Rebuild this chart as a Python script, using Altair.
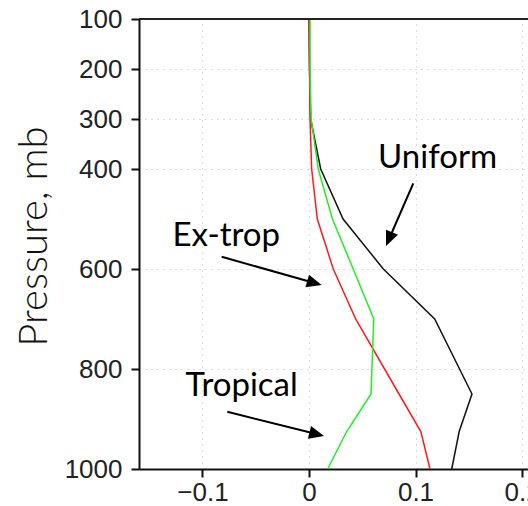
import math
import altair as alt
import pandas as pd

# ---- data ----
pressure = [100, 200, 300, 400, 500, 600, 700, 850, 925, 1000]
uniform = [0.0, 0.0005, 0.0015, 0.011, 0.032, 0.0698, 0.118, 0.153, 0.141, 0.134]
extrop = [0.0, 0.0005, 0.001, 0.0025, 0.0078, 0.0228, 0.0438, 0.0845, 0.105, 0.1136]
tropical = [0.001, 0.001, 0.002, 0.0087, 0.022, 0.0415, 0.0608, 0.0582, 0.0354, 0.0175]

series_names = ["Uniform", "Ex-trop", "Tropical"]
series_colors = ["#111111", "#ff1a1a", "#22ee22"]

y_ticks = [100, 200, 300, 400, 600, 800, 1000]
x_ticks = [-0.1, 0, 0.1, 0.2]

# annotations (data coordinates)
ann_text = ["Uniform", "Ex-trop", "Tropical"]
ann_text_x = [0.1207, -0.0777, -0.0632]
ann_text_p = [398.6, 554, 854]
arrow_start_x = [0.0979, -0.082, -0.0767]
arrow_start_p = [428.6, 575.4, 885.4]
arrow_tip_x = [0.0723, 0.0119, 0.0141]
arrow_tip_p = [554, 632, 934]

# ---- layout ----
W, H = 389, 450
x_dom = [-0.1596, 0.2056]
y_dom = [100, 1000]
kx = W / (x_dom[1] - x_dom[0])
ky = H / (y_dom[1] - y_dom[0])
head_len = 15.0

rows = []
for name, vals in zip(series_names, [uniform, extrop, tropical]):
    for p, v in zip(pressure, vals):
        rows.append({"series": name, "p": p, "v": v})
df = pd.DataFrame(rows)

arr = []
for sx, sp, tx, tp in zip(arrow_start_x, arrow_start_p, arrow_tip_x, arrow_tip_p):
    dx = (tx - sx) * kx
    dy = (tp - sp) * ky
    L = math.hypot(dx, dy)
    ang = math.degrees(math.atan2(dx, -dy)) % 360
    ex = tx - (dx / L) * (head_len * 0.8) / kx
    ep = tp - (dy / L) * (head_len * 0.8) / ky
    arr.append({"x": sx, "p": sp, "x2": ex, "p2": ep, "tx": tx, "tp": tp, "ang": ang})
adf = pd.DataFrame(arr)
tdf = pd.DataFrame({"t": ann_text, "x": ann_text_x, "p": ann_text_p})

xscale = alt.Scale(domain=x_dom, nice=False, zero=False)
yscale = alt.Scale(domain=y_dom, reverse=True, nice=False, zero=False)

xaxis = alt.Axis(
    values=x_ticks, format=".1~f", title=None, grid=True,
    gridColor="#bbbbbb", gridDash=[1, 5], gridWidth=1,
    domainColor="#111111", domainWidth=2, tickColor="#111111", tickWidth=2, tickSize=8,
    labelFont="Liberation Sans", labelFontSize=26, labelColor="#222222", labelPadding=2,
)
yaxis = alt.Axis(
    values=y_ticks, format="d", title="Pressure, mb", grid=True,
    gridColor="#bbbbbb", gridDash=[1, 5], gridWidth=1,
    domainColor="#111111", domainWidth=2, tickColor="#111111", tickWidth=2, tickSize=8,
    labelFont="Liberation Sans", labelFontSize=26, labelColor="#222222", labelPadding=9,
    titleFont="Lato", titleFontSize=40, titleFontWeight=300, titleColor="#111111",
    titleAngle=270, titleAlign="center", titleBaseline="alphabetic",
    titleX=-93, titleY=217,
)

lines = alt.Chart(df).mark_line(strokeWidth=1.5).encode(
    x=alt.X("v:Q", scale=xscale, axis=xaxis),
    y=alt.Y("p:Q", scale=yscale, axis=yaxis),
    color=alt.Color("series:N", scale=alt.Scale(domain=series_names, range=series_colors), legend=None),
    order=alt.Order("p:Q"),
)

top = alt.Chart(pd.DataFrame({"p": [100]})).mark_rule(color="#222222", strokeWidth=2).encode(
    y=alt.Y("p:Q", scale=yscale, axis=yaxis)
)

shafts = alt.Chart(adf).mark_rule(color="black", strokeWidth=2).encode(
    x=alt.X("x:Q", scale=xscale, axis=xaxis),
    y=alt.Y("p:Q", scale=yscale, axis=yaxis),
    x2="x2:Q",
    y2="p2:Q",
)

heads = alt.Chart(adf).mark_point(
    shape="M0,0L-0.87,2L0.87,2Z", filled=True, color="black", opacity=1, size=225, strokeWidth=0
).encode(
    x=alt.X("tx:Q", scale=xscale, axis=xaxis),
    y=alt.Y("tp:Q", scale=yscale, axis=yaxis),
    angle=alt.Angle("ang:Q", scale=None),
)

texts = alt.Chart(tdf).mark_text(
    font="Lato", fontSize=33, color="black", align="center", baseline="alphabetic"
).encode(
    x=alt.X("x:Q", scale=xscale, axis=xaxis),
    y=alt.Y("p:Q", scale=yscale, axis=yaxis),
    text="t:N",
)

chart = alt.layer(lines, top, shafts, heads, texts).properties(
    width=W, height=H,
    autosize=alt.AutoSizeParams(type="none"),
    padding={"left": 139, "top": 19, "right": 0, "bottom": 37},
).configure_view(stroke=None).configure(background="white")

chart.save("out.html", embed_options={"renderer": "svg", "actions": False})
